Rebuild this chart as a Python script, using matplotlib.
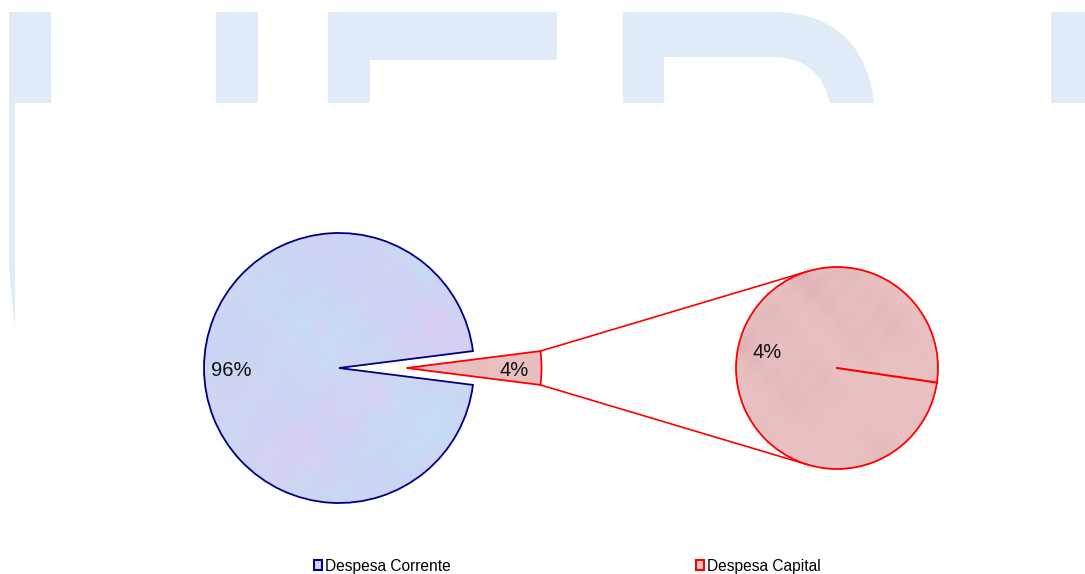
import numpy as np
import matplotlib
matplotlib.use("Agg")
from matplotlib import pyplot as plt
from matplotlib.patches import PathPatch, Rectangle, Patch
from matplotlib.path import Path

plt.rcParams['font.family'] = ['Liberation Sans', 'DejaVu Sans']

# data
categories = ['Despesa Corrente', 'Despesa Capital']
shares = [96, 4]  # percent
capital_share = shares[1]

W, H = 1085, 574
fig = plt.figure(figsize=(W / 100, H / 100), dpi=100)
ax = fig.add_axes([0, 0, 1, 1])

wm = '#e1ebf7'

def py(y):
    # pixel row -> data y
    return H - y

def poly(pts):
    return [(x, py(y)) for x, y in pts]

# background watermark (big light-blue letters)
for x0, x1 in [(216, 258), (1051, 1090)]:
    ax.add_patch(Rectangle((x0, py(103)), x1 - x0, 91, fc=wm, ec='none', zorder=0))
left = poly([(9, 12), (51, 12), (51, 103), (15, 103), (15, 328), (12, 300), (9, 265)])
ax.add_patch(PathPatch(Path(left + [left[0]], closed=True), fc=wm, ec='none', zorder=0))
f_pts = poly([(328, 12), (557, 12), (557, 60), (370, 60), (370, 103), (328, 103)])
ax.add_patch(PathPatch(Path(f_pts + [f_pts[0]], closed=True), fc=wm, ec='none', zorder=0))
r_verts = poly([(623, 12), (773, 12), (838, 12), (868, 50), (874, 103), (830, 103),
                (822, 72), (805, 57), (770, 57), (664, 57), (664, 103), (623, 103), (623, 12)])
r_codes = [Path.MOVETO, Path.LINETO, Path.CURVE4, Path.CURVE4, Path.CURVE4, Path.LINETO,
           Path.CURVE4, Path.CURVE4, Path.CURVE4, Path.LINETO, Path.LINETO, Path.LINETO, Path.CLOSEPOLY]
ax.add_patch(PathPatch(Path(r_verts, r_codes), fc=wm, ec='none', zorder=0))

# mottled fill textures (pure styling)
gx, gy = np.meshgrid(np.arange(W), np.arange(H))
m1 = (np.sin(gx * 0.043 + 1.3) * np.cos(gy * 0.051 + 0.4) + np.sin(gx * 0.017 - gy * 0.023) * 0.8
      + np.sin(gx * 0.11 + gy * 0.09) * 0.4 + np.sin(gx * 0.23 - gy * 0.19) * 0.25)
m2 = (np.cos(gx * 0.031 - 0.7) * np.sin(gy * 0.037 + 2.1) + np.cos(gx * 0.021 + gy * 0.027) * 0.7
      + np.cos(gx * 0.13 - gy * 0.08) * 0.4 + np.cos(gx * 0.21 + gy * 0.25) * 0.25)
m1 = (m1 - m1.min()) / np.ptp(m1)
m2 = (m2 - m2.min()) / np.ptp(m2)
base_b = np.array([204, 212, 243]) / 255
pink = np.array([222, 205, 243]) / 255
cyan = np.array([192, 226, 246]) / 255
tex_blue = (base_b + (pink - base_b) * (m1[..., None] ** 2) * 0.9 + (cyan - base_b) * (m2[..., None] ** 2) * 0.9)
base_r = np.array([234, 193, 195]) / 255
dark_r = np.array([218, 172, 176]) / 255
tex_red = base_r + (dark_r - base_r) * (m1[..., None] ** 3) * 0.8
tex_blue = np.clip(tex_blue, 0, 1)
tex_red = np.clip(tex_red, 0, 1)

# main pie
c1 = (339, py(368))
r1 = 135
half = shares[1] * 360 / 100 / 2
blue_fc, blue_ec = '#cdd5f2', '#000080'
red_fc, red_ec = '#e9c0c2', '#ff0000'
explode = 0.5 * r1
txt_drop = 3

wedges, texts, autotexts = ax.pie(
    [shares[1], shares[0]], center=c1, radius=r1, startangle=-half,
    explode=[explode, 0], colors=[red_fc, blue_fc],
    autopct='%1.0f%%', pctdistance=0.8,
    wedgeprops=dict(linewidth=1.3), textprops=dict(fontsize=14.5, color='#111111'))
wedges[0].set_edgecolor(red_ec)
wedges[1].set_edgecolor(blue_ec)
for t in autotexts:
    x, y = t.get_position()
    t.set_position((x, y - txt_drop))
    t.set_zorder(4)

# secondary pie (breakdown of the capital slice)
c2 = (837, py(368))
r2 = 101
start2 = -8.3
w2, t2 = ax.pie([capital_share], center=c2, radius=r2, startangle=start2,
                colors=[red_fc], labels=[f'{capital_share}%'], labeldistance=0.72,
                wedgeprops=dict(linewidth=1.3, edgecolor=red_ec),
                textprops=dict(fontsize=14.5, color='#111111'))
lab_ang = np.deg2rad(165)
for t in t2:
    t.set_position((c2[0] + 0.72 * r2 * np.cos(lab_ang), c2[1] + 0.72 * r2 * np.sin(lab_ang) - txt_drop))
    t.set_ha('center')
    t.set_va('center')
    t.set_zorder(4)
a = np.deg2rad(start2)
ax.plot([c2[0], c2[0] + r2 * np.cos(a)], [c2[1], c2[1] + r2 * np.sin(a)],
        color=red_ec, lw=1.5, zorder=3.5)

# textures clipped to the wedges
for w, tex in [(wedges[1], tex_blue), (wedges[0], tex_red), (w2[0], tex_red)]:
    im = ax.imshow(tex, extent=(0, W, 0, H), origin='lower', zorder=2.5, interpolation='bilinear')
    im.set_clip_path(w)
    w.set_facecolor('none')
    w.set_zorder(3)

# connector lines: slice outer corners -> tangent points of the second pie
ex_c = np.array(c1) + np.array([explode, 0.0])
for sgn in (1, -1):
    ang = np.deg2rad(sgn * half)
    p = ex_c + r1 * np.array([np.cos(ang), np.sin(ang)])
    v = p - np.array(c2)
    d = np.hypot(*v)
    phi = np.arctan2(v[1], v[0])
    alpha = np.arccos(r2 / d)
    tp_ang = phi - alpha if sgn > 0 else phi + alpha
    tp = np.array(c2) + r2 * np.array([np.cos(tp_ang), np.sin(tp_ang)])
    ax.plot([p[0], tp[0]], [p[1], tp[1]], color=red_ec, lw=1.2, zorder=1)

ax.set_xlim(0, W)
ax.set_ylim(0, H)
ax.set_aspect('equal')
ax.axis('off')

# legend
handles = [Patch(fc=blue_fc, ec=blue_ec, lw=1.5), Patch(fc=red_fc, ec=red_ec, lw=1.5)]
ax.legend(handles, categories, loc='center', bbox_to_anchor=(0.523, py(566) / H), ncol=2,
          frameon=False, fontsize=11.2, handlelength=0.5, handleheight=0.65,
          handletextpad=0.2, columnspacing=15.8, borderaxespad=0)

fig.savefig('out.png', dpi=100)
